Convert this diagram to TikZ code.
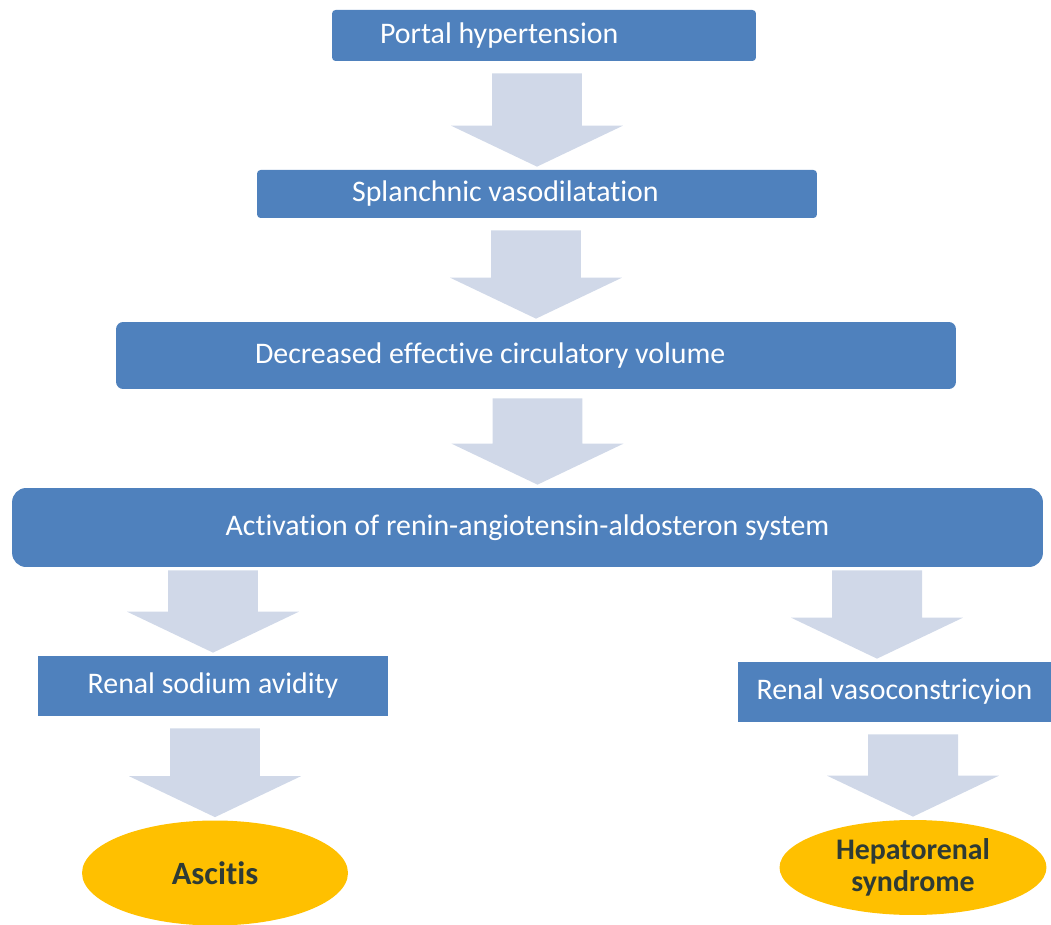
\documentclass[tikz,border=0pt]{standalone}
\usepackage{fontspec}
\setmainfont{Carlito}[Ligatures=NoCommon]
\usetikzlibrary{calc,shapes.geometric}
\definecolor{boxblue}{HTML}{4F81BD}
\definecolor{flowgray}{HTML}{D0D8E8}
\definecolor{ovalgold}{HTML}{FFC000}
\definecolor{ovaltext}{HTML}{2E3B35}
\tikzset{
    stage/.style={
        fill=boxblue,
        text=white,
        rounded corners=2pt,
        inner ysep=0pt,
        font=\fontsize{17}{20}\selectfont
    },
    outcome/.style={
        ellipse,
        fill=ovalgold,
        text=ovaltext,
        inner sep=0pt,
        align=center,
        font=\bfseries\fontsize{17}{18}\selectfont
    },
    flowfill/.style={fill=flowgray}
}
% broad block arrow: [top gap]{from}{to}{x offset}
\newcommand{\flowarrow}[4][0.24cm]{%
    \fill[flowfill] let \p1=(#2.south), \p2=($(#3.north)+(#4,0)$) in
        (\x2-0.9cm,\y1-#1) -- (\x2+0.9cm,\y1-#1) -- (\x2+0.9cm,\y2+0.88cm)
        -- (\x2+1.72cm,\y2+0.88cm) -- (\x2,\y2+0.06cm) -- (\x2-1.72cm,\y2+0.88cm)
        -- (\x2-0.9cm,\y2+0.88cm) -- cycle;
}

\begin{document}
\begin{tikzpicture}[x=0.02cm, y=-0.02cm]
    \useasboundingbox (0,0) rectangle (1051,925);
    % the chain of causes
    \node[stage, align=flush left, minimum width=8.48cm, minimum height=1.02cm, text width=6.56cm, inner xsep=0.96cm]
        (portal) at (544,35.5) {Portal hypertension};
    \node[stage, align=flush left, minimum width=11.2cm, minimum height=0.96cm, text width=7.4cm, inner xsep=1.9cm]
        (splanchnic) at (537,194) {Splanchnic vasodilatation};
    \node[stage, align=flush left, rounded corners=4pt, minimum width=16.8cm, minimum height=1.34cm, text width=11.24cm, inner xsep=2.78cm]
        (decreased) at (536,355.5) {Decreased effective circulatory volume};
    \node[stage, rounded corners=8pt, minimum width=20.62cm, minimum height=1.58cm]
        (raas) at (527.5,527.5) {Activation of renin-angiotensin-aldosteron system};
    \node[stage, rounded corners=0pt, minimum width=7cm, minimum height=1.2cm]
        (sodium) at (213,686) {Renal sodium avidity};
    \node[stage, rounded corners=0pt, minimum width=6.26cm, minimum height=1.2cm]
        (vasocon) at (894.5,692) {Renal vasoconstricyion};
    % end points
    \node[outcome, minimum width=5.32cm, minimum height=2.1cm, font=\bfseries\fontsize{18.5}{20}\selectfont]
        (ascitis) at (215,873) {Ascitis};
    \node[outcome, minimum width=5.34cm, minimum height=1.9cm]
        (hrs) at (913,867.5) {Hepatorenal\\syndrome};

    \flowarrow{portal}{splanchnic}{0cm}
    \flowarrow{splanchnic}{decreased}{0cm}
    \flowarrow[0.18cm]{decreased}{raas}{0.2cm}
    \flowarrow[0.06cm]{raas}{sodium}{0cm}
    \flowarrow{sodium}{ascitis}{0cm}
    \flowarrow[0.06cm]{raas}{vasocon}{-0.35cm}
    \flowarrow{vasocon}{hrs}{0cm}
\end{tikzpicture}
\end{document}
